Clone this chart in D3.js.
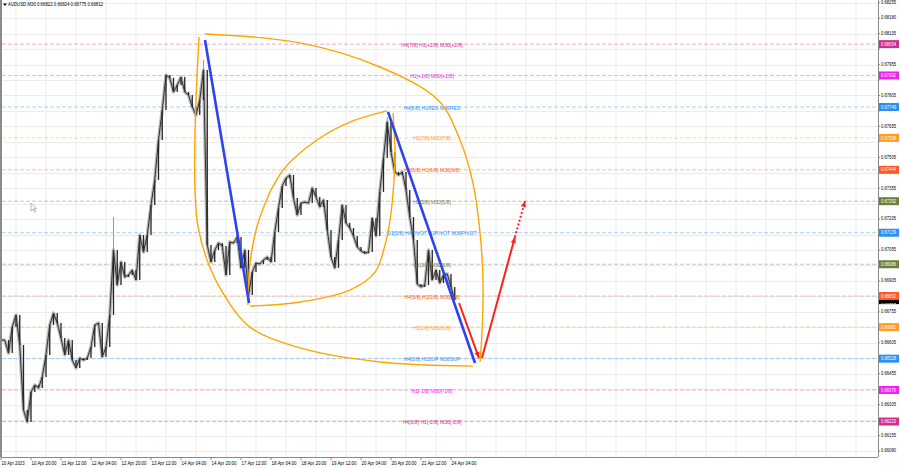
<!DOCTYPE html>
<html><head><meta charset="utf-8">
<script src="https://cdn.jsdelivr.net/npm/d3@7"></script>
<style>body{margin:0;background:#fff}svg{display:block}</style>
</head><body>
<svg id="c" width="900" height="468"></svg>
<script>
// ---------- data ----------
const headerText = "AUDUSD,M30  0.66822 0.66824 0.66775 0.66812";
const timeLabels = ["10 Apr 2023","10 Apr 20:00","11 Apr 12:00","12 Apr 04:00","12 Apr 20:00","13 Apr 12:00","14 Apr 04:00","14 Apr 20:00","17 Apr 12:00","18 Apr 04:00","18 Apr 20:00","19 Apr 12:00","20 Apr 04:00","20 Apr 20:00","21 Apr 12:00","24 Apr 04:00"];
const timeTickHours = [0,16,32,48,64,80,96,112,128,144,160,176,192,208,224,240];
// closes every 2 trading hours from 10 Apr 04:00
const closes = [0.66618,0.66618,0.66555,0.66682,0.66740,0.66594,0.66279,0.66221,0.66366,0.66400,
0.66386,0.66439,0.66546,0.66691,0.66749,0.66701,0.66628,0.66546,0.66618,0.66521,
0.66483,0.66531,0.66521,0.66531,0.66584,0.66691,0.66701,0.66536,0.66584,0.66740,
0.67055,0.66885,0.66997,0.66924,0.66934,0.66958,0.66910,0.67128,0.67045,0.67128,
0.67273,0.67395,0.67589,0.67734,0.67904,0.67890,0.67822,0.67856,0.67894,0.67822,
0.67807,0.67749,0.67710,0.67783,0.67928,0.67079,0.66997,0.67055,0.67089,0.67075,
0.66934,0.67094,0.67089,0.67118,0.66968,0.67055,0.66837,0.66948,0.66992,0.66987,
0.67007,0.67021,0.66997,0.67142,0.67259,0.67366,0.67404,0.67419,0.67307,0.67225,
0.67283,0.67288,0.67283,0.67356,0.67312,0.67264,0.67298,0.67152,0.67021,0.66968,
0.67104,0.67273,0.67186,0.67162,0.67123,0.67070,0.67050,0.67040,0.67045,0.67210,
0.67123,0.67337,0.67501,0.67676,0.67531,0.67434,0.67419,0.67434,0.67346,0.67215,
0.67104,0.66890,0.66876,0.66885,0.67055,0.66910,0.66958,0.66895,0.66934,0.66939,
0.66876,0.66812];
const barStepHours = 2;
// upper wicks of the sharpest spikes: [bar index, high]
const spikeHighs = [[30,0.67215],[54,0.67977],[103,0.67700]];
const priceTicks = [0.68255,0.68180,0.68105,0.68030,0.67955,0.67880,0.67805,0.67730,0.67655,0.67580,
0.67505,0.67430,0.67355,0.67280,0.67205,0.67130,0.67055,0.66980,0.66905,0.66830,
0.66755,0.66680,0.66605,0.66530,0.66455,0.66380,0.66305,0.66230,0.66155,0.66080];
const levelPrices = [0.68054,0.67902,0.67749,0.67599,0.67444,0.67292,0.67139,0.66986,0.66832,0.66681,0.66528,0.66376,0.66223];
const levelNames = ["H4[7/8] H1[+2/8] M30[+2/8]","H1[+1/8] M30[+1/8]","H4[6/8] H1RES M30RES","H1[7/8] M30[7/8]",
"H4[5/8] H1[6/8] M30[6/8]","H1[5/8] M30[5/8]","D1[5/8] H4PIVOT H1PIVOT M30PIVOT","H1[3/8] M30[3/8]",
"H4[3/8] H1[2/8] M30[2/8]","H1[1/8] M30[1/8]","H4[2/8] H1SUP M30SUP","H1[-1/8] M30[-1/8]","H4[1/8] H1[-2/8] M30[-2/8]"];
const levelColors = ["#cf2f8e","#f022f0","#2a90f5","#ff9d22","#ff5a26","#6e7f3c","#2a90f5","#6e7f3c","#ff5a26","#ff9d22","#2a90f5","#f022f0","#cf2f8e"];
const bidPrice = 0.66812;
// drawn objects: [trading hour, price]
const blueLine1 = [[108.8,0.68074],[132.3,0.66798]];
const blueLine2 = [[206.4,0.67725],[252.8,0.66507]];
const redLine1 = [[244.3,0.66798],[254.9,0.66531]];
const redLine2 = [[256.5,0.66531],[274.1,0.67118]];
const redDotted = [[274.1,0.67118],[279.5,0.67293]];
const arcOuterA = [[105.6,0.68089],[103.5,0.67637],[103.5,0.67332],[105.1,0.67167],[109.9,0.67007],[118.4,0.66846],[132.8,0.66681],[159.5,0.66580],[202.1,0.66512],[251.7,0.66492]];
const arcOuterB = [[108.8,0.68103],[159.5,0.68060],[202.1,0.67943],[233.1,0.67783],[244.8,0.67589],[251.7,0.67380],[255.5,0.67138],[257.1,0.66895],[256.5,0.66652],[255.5,0.66512]];
const arcInnerC = [[131.7,0.66788],[132.8,0.66992],[138.1,0.67215],[150.4,0.67443],[168.5,0.67589],[186.1,0.67676],[205.9,0.67730]];
const arcInnerD = [[132.8,0.66783],[159.5,0.66803],[186.1,0.66861],[199.5,0.66948],[204.8,0.67079],[207.5,0.67201],[209.6,0.67395],[210.1,0.67540],[209.1,0.67720]];

// ---------- layout ----------
const W = 900, H = 468;
const plotL = 2, plotR = 878, plotT = 0, plotB = 457;
const x = d3.scaleLinear().domain([0, 240]).range([1, 451]);
const y = d3.scaleLinear().domain([0.66080, 0.68255]).range([451, 2.7]);
const svg = d3.select("#c");
const FONT = "'Liberation Sans', Arial, sans-serif";

svg.append("defs").append("clipPath").attr("id","clip")
  .append("rect").attr("x",plotL).attr("y",plotT).attr("width",plotR-plotL).attr("height",plotB-plotT);
svg.append("rect").attr("width",W).attr("height",H).attr("fill","#fff");

const plot = svg.append("g").attr("clip-path","url(#clip)");

// grid
plot.append("g").selectAll("line").data(priceTicks).join("line")
  .attr("x1",plotL).attr("x2",plotR).attr("y1",d=>Math.round(y(d))+0.5).attr("y2",d=>Math.round(y(d))+0.5)
  .attr("stroke","#ececec").attr("stroke-width",1);
const gridHours = d3.range(-8, 480, 16);
plot.append("g").selectAll("line").data(gridHours).join("line")
  .attr("x1",d=>x(d)).attr("x2",d=>x(d)).attr("y1",plotT).attr("y2",plotB)
  .attr("stroke","#ececec").attr("stroke-width",1);

// level lines
plot.append("g").selectAll("line").data(levelPrices).join("line")
  .attr("x1",plotL).attr("x2",plotR).attr("y1",d=>y(d)).attr("y2",d=>y(d))
  .attr("stroke",(d,i)=>levelColors[i]).attr("stroke-opacity",0.4)
  .attr("stroke-dasharray","4,2").attr("stroke-width",1);

// cursor icon
svg.append("path").attr("d","M31,203L31,211L33,209L34.6,212.2L35.6,211.7L34.1,208.6L36.6,208.6Z")
  .attr("fill","#fff").attr("stroke","#888").attr("stroke-width",0.6);

// price series
const pts = closes.map((c,i)=>[x(i*barStepHours), y(c)]);
plot.append("path").attr("d", d3.line()(pts)).attr("fill","none")
  .attr("stroke","#b8b8b8").attr("stroke-width",3.4).attr("stroke-linejoin","round");
plot.append("g").selectAll("line").data(spikeHighs).join("line")
  .attr("x1",d=>x(d[0]*barStepHours)).attr("x2",d=>x(d[0]*barStepHours))
  .attr("y1",d=>y(closes[d[0]])).attr("y2",d=>y(d[1]))
  .attr("stroke","#999").attr("stroke-width",1);
plot.append("g").selectAll("line").data(closes.slice(1)).join("line")
  .attr("x1",(d,i)=>x((i+1)*barStepHours)).attr("x2",(d,i)=>x((i+1)*barStepHours))
  .attr("y1",(d,i)=>y(closes[i])).attr("y2",d=>y(d))
  .attr("stroke","#222").attr("stroke-width",1.3);
plot.append("path").attr("d", d3.line()(pts)).attr("fill","none")
  .attr("stroke","#333").attr("stroke-width",1).attr("stroke-linejoin","round");

// level labels
plot.append("g").selectAll("text").data(levelPrices).join("text")
  .attr("x",432).attr("y",d=>y(d)+1.2).attr("text-anchor","middle").attr("dominant-baseline","middle")
  .attr("font-family",FONT).attr("font-size",5.1).attr("fill",(d,i)=>levelColors[i])
  .text((d,i)=>levelNames[i]);

// drawn objects
const line = d3.line().x(d=>x(d[0])).y(d=>y(d[1]));
const curve = d3.line().x(d=>x(d[0])).y(d=>y(d[1])).curve(d3.curveCatmullRom.alpha(0.5));
[arcOuterA, arcOuterB, arcInnerC, arcInnerD].forEach(a=>{
  plot.append("path").attr("d",curve(a)).attr("fill","none").attr("stroke","#ffa500").attr("stroke-width",1.4);
});
[blueLine1, blueLine2].forEach(a=>{
  plot.append("path").attr("d",line(a)).attr("stroke","#2d43f0").attr("stroke-width",2.6).attr("fill","none");
});
function arrowHead(seg, color){
  const p0=[x(seg[0][0]),y(seg[0][1])], p1=[x(seg[1][0]),y(seg[1][1])];
  const ang=Math.atan2(p1[1]-p0[1],p1[0]-p0[0]);
  const L=6, Wd=2.6;
  const bx=p1[0]-L*Math.cos(ang), by=p1[1]-L*Math.sin(ang);
  const nx=-Math.sin(ang), ny=Math.cos(ang);
  plot.append("path").attr("d",`M${p1[0]},${p1[1]}L${bx+nx*Wd},${by+ny*Wd}L${bx-nx*Wd},${by-ny*Wd}Z`).attr("fill",color);
}
[redLine1, redLine2].forEach(a=>{
  plot.append("path").attr("d",line(a)).attr("stroke","#ff2020").attr("stroke-width",2).attr("fill","none");
  arrowHead(a,"#ff2020");
});
plot.append("path").attr("d",line(redDotted)).attr("stroke","#ff2020").attr("stroke-width",2).attr("stroke-dasharray","2,2").attr("fill","none");
arrowHead(redDotted,"#ff2020");

// borders
svg.append("line").attr("x1",1).attr("x2",1).attr("y1",0).attr("y2",plotB).attr("stroke","#8a8a8a").attr("stroke-width",2);
svg.append("line").attr("x1",plotR+0.5).attr("x2",plotR+0.5).attr("y1",0).attr("y2",plotB).attr("stroke","#8a8a8a").attr("stroke-width",1);
svg.append("line").attr("x1",1).attr("x2",plotR).attr("y1",plotB+0.5).attr("y2",plotB+0.5).attr("stroke","#8a8a8a").attr("stroke-width",1);

// price axis (labels hidden behind a box are not repeated)
const boxPrices = levelPrices.concat([bidPrice]);
const visibleTicks = priceTicks.filter(p => !boxPrices.some(b => Math.abs(y(b)-y(p)) < 8.5));
const pa = svg.append("g");
pa.selectAll("text").data(visibleTicks).join("text")
  .attr("x",881).attr("y",d=>y(d)).attr("dominant-baseline","middle")
  .attr("font-family",FONT).attr("font-size",5).attr("textLength",15).attr("lengthAdjust","spacingAndGlyphs")
  .attr("fill","#000").text(d=>d.toFixed(5));
pa.selectAll("line").data(priceTicks).join("line")
  .attr("x1",plotR).attr("x2",plotR+2).attr("y1",d=>y(d)).attr("y2",d=>y(d)).attr("stroke","#8a8a8a");
// level boxes
const boxes = svg.append("g");
const bidG = boxes.append("g");
bidG.append("rect").attr("x",879).attr("y",y(bidPrice)-4).attr("width",20).attr("height",8).attr("fill","#000");
const lb = boxes.selectAll("g.lv").data(levelPrices).join("g").attr("class","lv");
lb.append("rect").attr("x",879).attr("y",d=>y(d)-4).attr("width",20).attr("height",8).attr("fill",(d,i)=>levelColors[i]);
lb.append("text").attr("x",881).attr("y",d=>y(d)+0.3).attr("dominant-baseline","middle")
  .attr("font-family",FONT).attr("font-size",5).attr("textLength",15).attr("lengthAdjust","spacingAndGlyphs")
  .attr("fill","#fff").text(d=>d.toFixed(5));
bidG.append("text").attr("x",881).attr("y",y(bidPrice)+3.2).attr("dominant-baseline","middle")
  .attr("font-family",FONT).attr("font-size",2.5).attr("textLength",15).attr("lengthAdjust","spacingAndGlyphs")
  .attr("fill","#fff").text(bidPrice.toFixed(5));
bidG.raise();
lb.filter(d=>Math.abs(y(d)-y(bidPrice))<8).raise();

// time axis
const ta = svg.append("g");
ta.selectAll("text").data(timeTickHours).join("text")
  .attr("x",d=>x(d)+0.5).attr("y",464).attr("dominant-baseline","middle")
  .attr("font-family",FONT).attr("font-size",4.8).attr("textLength",(d,i)=>i===0?23:25).attr("lengthAdjust","spacingAndGlyphs")
  .attr("fill","#000").text((d,i)=>timeLabels[i]);
ta.selectAll("line").data(timeTickHours).join("line")
  .attr("x1",d=>x(d)).attr("x2",d=>x(d)).attr("y1",plotB).attr("y2",plotB+3).attr("stroke","#8a8a8a");

// header
svg.append("path").attr("d","M3,3.5L7,3.5L5,6Z").attr("fill","#000");
svg.append("text").attr("x",8).attr("y",5).attr("dominant-baseline","middle")
  .attr("font-family",FONT).attr("font-size",4.8).attr("textLength",95).attr("lengthAdjust","spacingAndGlyphs")
  .attr("fill","#000").text(headerText);
</script>
</body></html>
